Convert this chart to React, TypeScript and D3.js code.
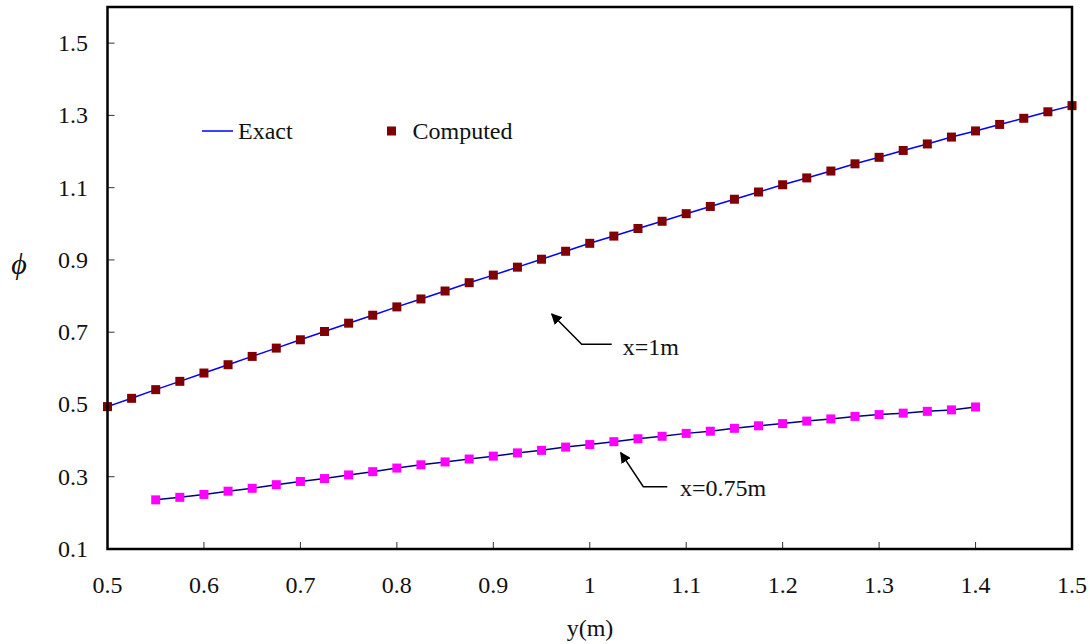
import React from "react";
import * as d3 from "d3";

const yPositions1: number[] = [
  0.5, 0.525, 0.55, 0.575, 0.6, 0.625, 0.65, 0.675, 0.7, 0.725, 0.75, 0.775, 0.8,
  0.825, 0.85, 0.875, 0.9, 0.925, 0.95, 0.975, 1.0, 1.025, 1.05, 1.075, 1.1,
  1.125, 1.15, 1.175, 1.2, 1.225, 1.25, 1.275, 1.3, 1.325, 1.35, 1.375, 1.4,
  1.425, 1.45, 1.475, 1.5,
];
const phiX1: number[] = [
  0.494, 0.517, 0.541, 0.564, 0.587, 0.61, 0.633, 0.656, 0.679, 0.702, 0.725, 0.747, 0.77,
  0.792, 0.814, 0.837, 0.858, 0.88, 0.902, 0.924, 0.946, 0.966, 0.987, 1.007, 1.028,
  1.048, 1.068, 1.088, 1.108, 1.127, 1.146, 1.166, 1.184, 1.203, 1.221, 1.24, 1.257,
  1.275, 1.292, 1.31, 1.327,
];
const yPositions075: number[] = [
  0.55, 0.575, 0.6, 0.625, 0.65, 0.675, 0.7, 0.725, 0.75, 0.775, 0.8,
  0.825, 0.85, 0.875, 0.9, 0.925, 0.95, 0.975, 1.0, 1.025, 1.05, 1.075, 1.1,
  1.125, 1.15, 1.175, 1.2, 1.225, 1.25, 1.275, 1.3, 1.325, 1.35, 1.375, 1.4,
];
const phiX075: number[] = [
  0.236, 0.243, 0.251, 0.26, 0.268, 0.278, 0.287, 0.295, 0.305, 0.314, 0.324,
  0.333, 0.341, 0.349, 0.357, 0.366, 0.373, 0.382, 0.389, 0.397, 0.405, 0.412, 0.42,
  0.426, 0.434, 0.441, 0.447, 0.454, 0.46, 0.467, 0.472, 0.476, 0.481, 0.485, 0.493,
];
const xTicks: number[] = [0.5, 0.6, 0.7, 0.8, 0.9, 1.0, 1.1, 1.2, 1.3, 1.4, 1.5];
const yTicks: number[] = [0.1, 0.3, 0.5, 0.7, 0.9, 1.1, 1.3, 1.5];
const xLabel = "y(m)";
const yLabel = "\u03d5";
const legendLabels = ["Exact", "Computed"];

const W = 1090;
const H = 644;
const L = 107.5;
const R = 1072;
const T = 7;
const B = 549;
const FS = 24;
const FONT = "'Liberation Serif', 'Times New Roman', 'DejaVu Serif', serif";

export default function App() {
  const x = d3.scaleLinear().domain([0.5, 1.5]).range([L, R]);
  const y = d3.scaleLinear().domain([0.1, 1.6]).range([B, T]);
  const line = d3
    .line<[number, number]>()
    .x((d) => x(d[0]))
    .y((d) => y(d[1]));
  const s1: [number, number][] = yPositions1.map((v, i) => [v, phiX1[i]]);
  const s2: [number, number][] = yPositions075.map((v, i) => [v, phiX075[i]]);
  const ms = 9;
  const fmt = (v: number) => (Math.abs(v - 1) < 1e-9 ? "1" : d3.format(".1f")(v));

  return (
    <svg
      width={W}
      height={H}
      style={{ position: "absolute", left: 0, top: 0, background: "#fff" }}
      fontFamily={FONT}
    >
      <defs>
        <marker id="arr" viewBox="0 0 10 10" refX="9" refY="5" markerWidth="11" markerHeight="11" markerUnits="userSpaceOnUse" orient="auto">
          <path d="M0,0 L10,5 L0,10 z" fill="#000" />
        </marker>
      </defs>
      <rect x={0} y={0} width={W} height={H} fill="#fff" />
      {yTicks.map((t) => (
        <line key={"yt" + t} x1={L} x2={L + 7} y1={y(t)} y2={y(t)} stroke="#333" strokeWidth={1} />
      ))}
      {xTicks.map((t) => (
        <line key={"xt" + t} x1={x(t)} x2={x(t)} y1={B} y2={B - 7} stroke="#333" strokeWidth={1} />
      ))}
      {yTicks.map((t) => (
        <text key={"yl" + t} x={88} y={y(t)} dy="0.33em" textAnchor="end" fontSize={FS} fill="#111">
          {fmt(t)}
        </text>
      ))}
      {xTicks.map((t) => (
        <text key={"xl" + t} x={x(t)} y={593} textAnchor="middle" fontSize={FS} fill="#111">
          {fmt(t)}
        </text>
      ))}
      <path d={line(s1) || ""} fill="none" stroke="#0000ff" strokeWidth={1.5} />
      <path d={line(s2) || ""} fill="none" stroke="#000080" strokeWidth={1.5} />
      {s1.map((d, i) => (
        <rect key={"m1" + i} x={x(d[0]) - ms / 2} y={y(d[1]) - ms / 2} width={ms} height={ms} fill="#800000" />
      ))}
      {s2.map((d, i) => (
        <rect key={"m2" + i} x={x(d[0]) - ms / 2} y={y(d[1]) - ms / 2} width={ms} height={ms} fill="#ff00ff" />
      ))}
      <rect x={L} y={T} width={R - L} height={B - T} fill="none" stroke="#000" strokeWidth={2.5} />
      <line x1={202} x2={233} y1={131} y2={131} stroke="#0000ff" strokeWidth={1.5} />
      <text x={238} y={139} fontSize={FS} fill="#111">{legendLabels[0]}</text>
      <rect x={391.5 - ms / 2} y={131 - ms / 2} width={ms} height={ms} fill="#800000" />
      <text x={412.5} y={139} fontSize={FS} fill="#111">{legendLabels[1]}</text>
      <polyline points="611.7,344.3 581.7,344.3 551.7,314" fill="none" stroke="#000" strokeWidth={1.5} markerEnd="url(#arr)" />
      <text x={622.7} y={355} fontSize={FS} fill="#111">x=1m</text>
      <polyline points="667.3,486.7 643.3,486.7 620.7,452.7" fill="none" stroke="#000" strokeWidth={1.5} markerEnd="url(#arr)" />
      <text x={680} y={496} fontSize={FS} fill="#111">x=0.75m</text>
      <text x={590} y={636} textAnchor="middle" fontSize={FS} fill="#111">{xLabel}</text>
      <text x={19} y={274} textAnchor="middle" fontSize={30} fontStyle="italic" fill="#111">{yLabel}</text>
    </svg>
  );
}
